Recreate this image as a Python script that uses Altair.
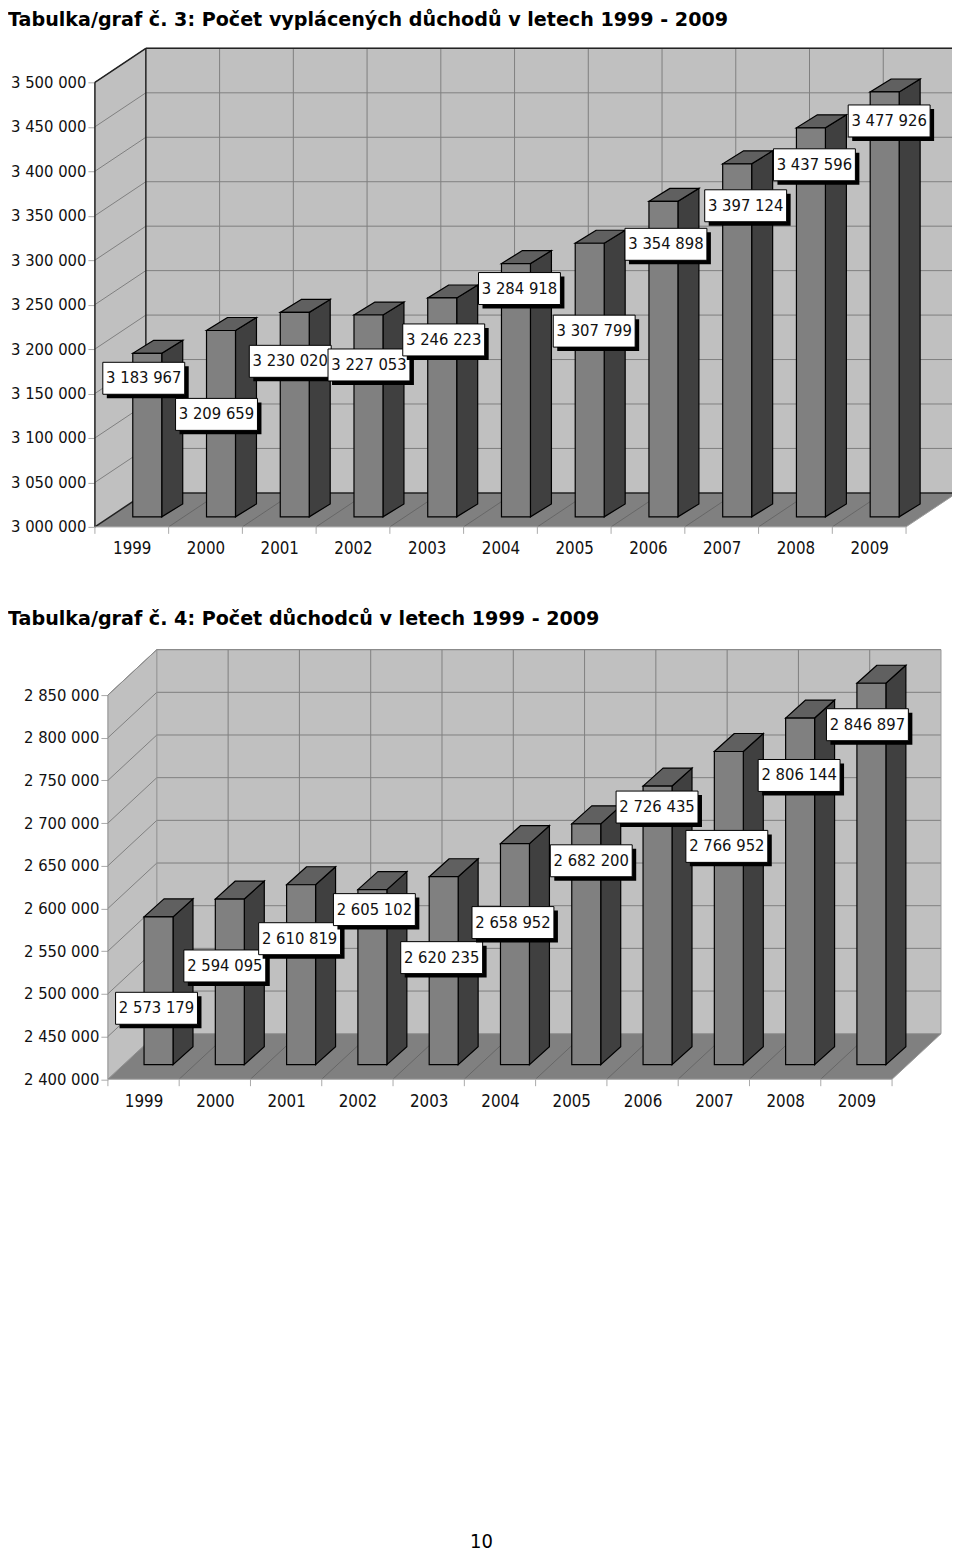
import altair as alt
import pandas as pd

years = list(range(1999, 2010))
paid_values = [3183967, 3209659, 3230020, 3227053, 3246223, 3284918, 3307799, 3354898, 3397124, 3437596, 3477926]
pensioner_values = [2573179, 2594095, 2610819, 2605102, 2620235, 2658952, 2682200, 2726435, 2766952, 2806144, 2846897]
title_a = "Tabulka/graf č. 3: Počet vyplácených důchodů v letech 1999 - 2009"
title_b = "Tabulka/graf č. 4: Počet důchodců v letech 1999 - 2009"
page_number = "10"

# where each annotation box sits, relative to the top of its bar (pixels)
paid_box_dx = [12, 11, 11, 16, 17, 19, 20, 18, 24, 19, 20]
paid_box_dy = [25, 84, 49, 50, 42, 25, 88, 43, 42, 37, 29]
pens_box_dx = [13, 10, 13.5, 17, 13, 13, 20, 14.5, 13, 14, 11]
pens_box_dy = [91.5, 67, 54, 20, 81, 79, 37, 21, 95, 57.5, 41.5]

FONT = "DejaVu Sans Condensed, Noto Sans"
PLOT_LEFT, PLOT_RIGHT = 95, 958
WIDTH = PLOT_RIGHT - PLOT_LEFT


def panel(values, box_dx, box_dy, title, vmin, vmax_tick, axis_left, floor_right, front_y, tick_top_y,
          wall_left, wall_top, wall_bottom, bar_off_y, bar_off_x, side_dx, side_dy, edge, title_y, extra=None):
    step = (floor_right - axis_left) / 11
    ppu = (front_y - tick_top_y) / (vmax_tick - vmin)
    height = front_y - wall_top
    c0 = axis_left + step / 2
    xdom = [1999 + (PLOT_LEFT - c0) / step, 1999 + (PLOT_RIGHT - c0) / step]
    ydom = [vmin, vmin + height / ppu]
    xs = alt.Scale(domain=xdom, nice=False, zero=False)
    ys = alt.Scale(domain=ydom, nice=False, zero=False)
    ux = 1 / step
    uy = 1 / ppu
    depth_x = (wall_left - axis_left) * ux
    depth_y = (front_y - wall_bottom) * uy
    ticks = list(range(vmin, vmax_tick + 1, 50000))
    left_edge = 1998.5
    right_edge = 2009.5

    axis_x = alt.Axis(values=years, format="d", ticks=False, domain=False, grid=False, title=None,
                      labelFont=FONT, labelFontSize=16.8, labelColor="#111", labelPadding=14,
                      labelFlush=False, labelOverlap=False)
    axis_y = alt.Axis(values=ticks, ticks=True, tickSize=7, tickColor="#aaaaaa", domain=False, grid=False, title=None,
                      labelFont=FONT, labelFontSize=16.5, labelColor="#111", labelPadding=2,
                      labelFlush=False, labelOverlap=False, offset=PLOT_LEFT - axis_left,
                      labelExpr="replace(format(datum.value, ','), /,/g, ' ')")
    X = alt.X("x:Q", scale=xs, axis=axis_x)
    Y = alt.Y("y:Q", scale=ys, axis=axis_y)

    def rules(rows, color, width=1):
        d = pd.DataFrame(rows, columns=["x", "y", "x2", "y2"])
        return alt.Chart(d).mark_rule(color=color, strokeWidth=width).encode(X, Y, x2="x2:Q", y2="y2:Q")

    layers = []
    # side wall
    top_val = vmax_tick
    d = pd.DataFrame({"x": [left_edge, left_edge + depth_x],
                      "y": [top_val, top_val + depth_y],
                      "y2": [vmin, vmin + depth_y]})
    layers.append(alt.Chart(d).mark_area(color="#c0c0c0").encode(X, Y, y2="y2:Q"))
    # back wall
    d = pd.DataFrame({"x": [left_edge + depth_x, right_edge + depth_x],
                      "y": [top_val + depth_y] * 2, "y2": [vmin + depth_y] * 2})
    layers.append(alt.Chart(d).mark_area(color="#c0c0c0").encode(X, Y, y2="y2:Q"))
    # floor
    d = pd.DataFrame({"y": [vmin, vmin + depth_y],
                      "x": [left_edge, left_edge + depth_x],
                      "x2": [right_edge, right_edge + depth_x]})
    layers.append(alt.Chart(d).mark_area(color="#808080", orient="horizontal").encode(X, Y, x2="x2:Q"))

    # gridlines
    grid_rows = []
    for t in ticks[1:]:
        grid_rows.append((left_edge, t, left_edge + depth_x, t + depth_y))
        grid_rows.append((left_edge + depth_x, t + depth_y, right_edge + depth_x, t + depth_y))
    for k in range(1, 11):
        bx = left_edge + k + depth_x
        grid_rows.append((bx, vmin + depth_y, bx, top_val + depth_y))
    layers.append(rules(grid_rows, "#808080"))
    layers.append(rules([(left_edge + k, vmin, left_edge + k + depth_x, vmin + depth_y) for k in range(1, 11)], "#666666"))

    # wall outlines
    out = [
        (left_edge, vmin, left_edge, top_val),
        (left_edge, top_val, left_edge + depth_x, top_val + depth_y),
        (left_edge + depth_x, top_val + depth_y, right_edge + depth_x, top_val + depth_y),
        (left_edge + depth_x, vmin + depth_y, left_edge + depth_x, top_val + depth_y),
        (left_edge + depth_x, vmin + depth_y, right_edge + depth_x, vmin + depth_y),
        (left_edge, vmin, left_edge + depth_x, vmin + depth_y),
    ]
    layers.append(rules(out, edge, 1.5 if edge != "#8c8c8c" else 1))
    layers.append(rules([(right_edge + depth_x, vmin + depth_y, right_edge + depth_x, top_val + depth_y),
                         (left_edge, vmin, right_edge, vmin),
                         (right_edge, vmin, right_edge + depth_x, vmin + depth_y)], "#9a9a9a"))
    # x ticks
    layers.append(rules([(left_edge + k, vmin, left_edge + k, vmin - 7 * uy) for k in range(0, 12)], "#aaaaaa"))

    # bars
    half = 14.5 * ux
    for yr, v in zip(years, values):
        l = yr + bar_off_x * ux - half
        r = yr + bar_off_x * ux + half
        top = v + bar_off_y * uy
        base = vmin + bar_off_y * uy
        sx, sy = side_dx * ux, side_dy * uy
        side = pd.DataFrame({"x": [r, r + sx], "y": [top, top + sy], "y2": [base, base + sy]})
        layers.append(alt.Chart(side).mark_area(color="#404040", stroke="black", strokeWidth=1.2).encode(X, Y, y2="y2:Q"))
        cap = pd.DataFrame({"y": [top, top + sy], "x": [l, l + sx], "x2": [r, r + sx]})
        layers.append(alt.Chart(cap).mark_area(color="#606060", stroke="black", strokeWidth=1.2, orient="horizontal").encode(X, Y, x2="x2:Q"))
        front = pd.DataFrame({"x": [l], "x2": [r], "y": [top], "y2": [base]})
        layers.append(alt.Chart(front).mark_rect(color="#808080", stroke="black", strokeWidth=1.2).encode(X, Y, x2="x2:Q", y2="y2:Q"))

    # value boxes, in order so that later ones cover earlier ones
    bw, bh = 41, 16
    for yr, v, dx, dy in zip(years, values, box_dx, box_dy):
        cx = yr + dx * ux
        cy = v + bar_off_y * uy - dy * uy
        shadow = pd.DataFrame({"x": [cx - (bw - 4) * ux], "x2": [cx + (bw + 4) * ux],
                               "y": [cy + (bh - 4) * uy], "y2": [cy - (bh + 4) * uy]})
        layers.append(alt.Chart(shadow).mark_rect(color="black").encode(X, Y, x2="x2:Q", y2="y2:Q"))
        box = pd.DataFrame({"x": [cx - bw * ux], "x2": [cx + bw * ux],
                            "y": [cy + bh * uy], "y2": [cy - bh * uy]})
        layers.append(alt.Chart(box).mark_rect(color="white", stroke="black", strokeWidth=1).encode(X, Y, x2="x2:Q", y2="y2:Q"))
        txt = pd.DataFrame({"x": [cx], "y": [cy], "t": [f"{v:,}".replace(",", " ")]})
        layers.append(alt.Chart(txt).mark_text(font=FONT, fontSize=16.5, color="#111", baseline="middle", align="center")
                      .encode(X, Y, text="t:N"))

    # heading
    head = pd.DataFrame({"t": [title]})
    layers.append(alt.Chart(head).mark_text(font="DejaVu Sans", fontSize=19.15, fontWeight="bold", color="black",
                                            align="left", baseline="middle")
                  .encode(x=alt.value(8 - PLOT_LEFT), y=alt.value(title_y), text="t:N"))
    if extra:
        foot = pd.DataFrame({"t": [extra[0]]})
        layers.append(alt.Chart(foot).mark_text(font=FONT, fontSize=20, color="black", align="center", baseline="middle")
                      .encode(x=alt.value(extra[1] - PLOT_LEFT), y=alt.value(extra[2]), text="t:N"))
    return alt.layer(*layers).properties(width=WIDTH, height=height)


chart_a = panel(paid_values, paid_box_dx, paid_box_dy, title_a, 3000000, 3500000, 95, 907, 527, 82,
                146, 48, 493, 10, 15.5, 21, 13, "#222222", 20 - 48)
chart_b = panel(pensioner_values, pens_box_dx, pens_box_dy, title_b, 2400000, 2850000, 108, 893, 1079.5, 695,
                157, 649, 1034, 14.5, 15, 20, 18, "#8c8c8c", 619 - 649, (page_number, 482, 1543 - 649))

chart = alt.vconcat(chart_a, chart_b, spacing=52.4).properties(
    padding={"left": 0, "top": 2.6, "right": -6, "bottom": 0}).configure_view(stroke=None)

chart.save("out.html", embed_options={"renderer": "svg", "actions": False})
